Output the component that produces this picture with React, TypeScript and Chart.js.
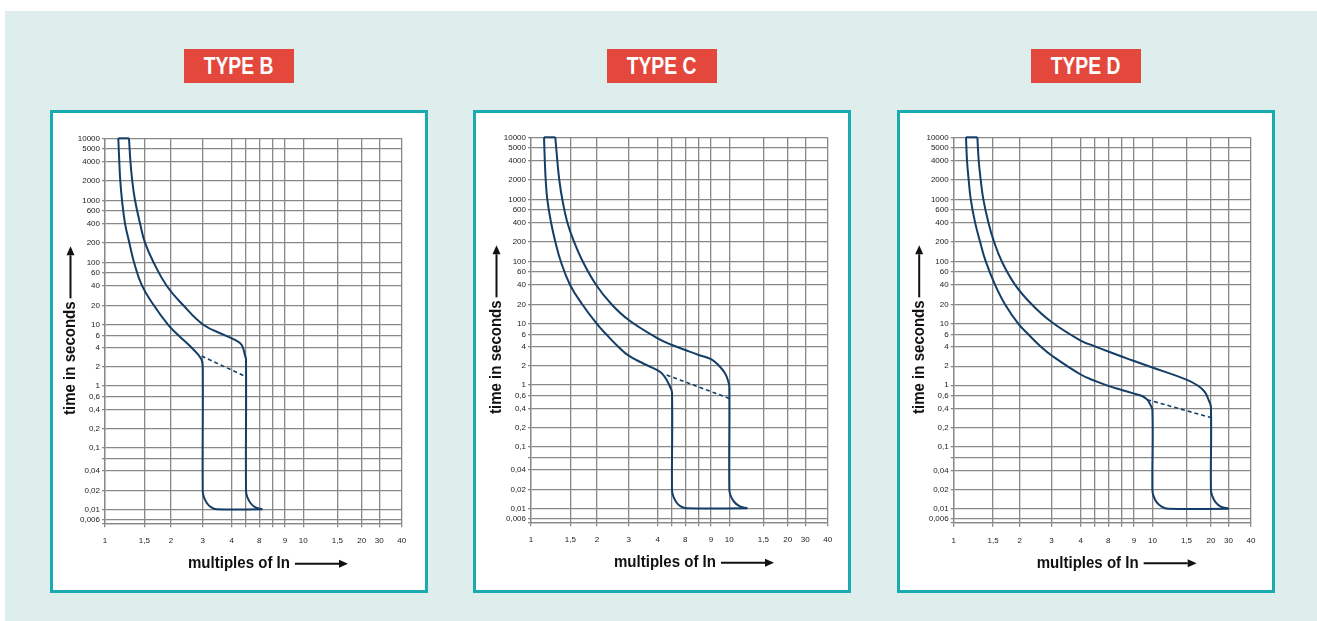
import React, { useEffect, useRef } from 'react';
import { Chart, registerables, LinearScale } from 'chart.js';

Chart.register(...registerables);

// ---------- axis definitions ----------
// x: gridline values (multiples of In) and the labels printed under them
const xTickValues = [1, 1.5, 2, 3, 4, 5, 6, 7, 8, 10, 15, 20, 30, 40];
const xTickLabels = ['1', '1,5', '2', '3', '4', '', '8', '', '9', '10', '1,5', '20', '30', '40'];
// y: gridline values (seconds) and labels
const yTickValues = [10000, 5000, 4000, 2000, 1000, 600, 400, 200, 100, 60, 40, 20, 10, 6, 4, 2, 1, 0.6, 0.4, 0.2, 0.1, 0.06, 0.04, 0.02, 0.01, 0.006, 0.005];
const yTickLabels = ['10000', '5000', '4000', '2000', '1000', '600', '400', '200', '100', '60', '40', '20', '10', '6', '4', '2', '1', '0,6', '0,4', '0,2', '0,1', '', '0,04', '0,02', '0,01', '0,006', ''];
// the printed grid is hand-drawn: relative stops of each gridline along the axis
const xGridStops = [0, 39.3, 66, 97.7, 126.7, 141, 154.3, 167.7, 180, 198.3, 232.3, 256.7, 274.3, 296.7];
const yGridStops = [0, 10, 23.4, 42.7, 62, 72.4, 85, 104.4, 124, 134.4, 147.4, 167, 186.4, 197, 209.4, 228.7, 247.7, 258.4, 271, 290.4, 309.4, 320.4, 332.7, 352, 371, 381.4, 385];

const X_TITLE = 'multiples of In';
const Y_TITLE = 'time in seconds';

// ---------- series: TYPE B ----------
const typeBLowerCurrent = [1.147, 1.159, 1.171, 1.192, 1.229, 1.285, 1.349, 1.465, 1.662, 1.936, 2.196, 2.606, 2.84, 2.96, 3, 3, 3.027, 3.12, 3.257, 3.447, 6.21];
const typeBLowerTime = [10000, 4000, 2000, 1000, 400, 200, 100, 40, 20, 10, 6, 4, 3.08, 2.57, 2, 0.02, 0.0161, 0.0127, 0.0108, 0.01, 0.01];
const typeBUpperCurrent = [1.281, 1.3, 1.325, 1.363, 1.435, 1.511, 1.656, 1.909, 2.341, 3.018, 3.743, 4.211, 4.676, 4.914, 5, 5, 5.069, 5.303, 5.657, 6.21];
const typeBUpperTime = [10000, 4000, 2000, 1000, 400, 200, 100, 40, 20, 10, 6, 5.15, 4.37, 3.08, 2.6, 0.02, 0.0161, 0.0127, 0.0108, 0.01];
const typeBDashCurrent = [2.96, 5];
const typeBDashTime = [2.97, 1.4];

// ---------- series: TYPE C ----------
const typeCLowerCurrent = [1.144, 1.153, 1.164, 1.183, 1.229, 1.285, 1.359, 1.495, 1.705, 1.993, 2.25, 2.626, 3, 3.5, 4, 4.3, 4.6, 4.85, 5, 5, 5.062, 5.282, 5.603, 6.097, 12.39];
const typeCLowerTime = [10000, 4000, 2000, 1000, 400, 200, 100, 40, 20, 10, 6, 4, 2.9, 2.15, 1.7, 1.5, 1.2, 0.92, 0.7, 0.02, 0.0161, 0.0127, 0.0108, 0.01, 0.01];
const typeCUpperCurrent = [1.285, 1.312, 1.339, 1.381, 1.454, 1.561, 1.714, 1.979, 2.408, 3, 4, 5, 6, 7, 8, 8.75, 9.49, 9.88, 10, 10, 10.14, 10.58, 11.29, 12.39];
const typeCUpperTime = [10000, 4000, 2000, 1000, 400, 200, 100, 40, 20, 11.4, 5.26, 4.23, 3.55, 2.97, 2.57, 2.07, 1.53, 1.13, 0.92, 0.02, 0.0161, 0.0127, 0.0108, 0.01];
const typeCDashCurrent = [4.6, 10];
const typeCDashTime = [1.44, 0.55];

// ---------- series: TYPE D ----------
const typeDLowerCurrent = [1.135, 1.147, 1.167, 1.192, 1.246, 1.312, 1.391, 1.533, 1.707, 1.97, 2.233, 2.626, 3, 4, 5, 6, 7, 8, 8.82, 9.39, 9.72, 10, 10, 10.12, 10.51, 11.16, 12.06, 30];
const typeDLowerTime = [10000, 4000, 2000, 1000, 400, 200, 100, 40, 20, 10, 6, 4, 2.94, 1.48, 1.17, 0.97, 0.8, 0.67, 0.6, 0.533, 0.46, 0.38, 0.02, 0.0161, 0.0127, 0.0108, 0.01, 0.01];
const typeDUpperCurrent = [1.276, 1.294, 1.321, 1.357, 1.429, 1.516, 1.647, 1.901, 2.332, 3, 4, 5, 6, 7, 8, 10, 15, 17.04, 18.6, 19.5, 20, 20, 20.56, 22.23, 25.07, 30];
const typeDUpperTime = [10000, 4000, 2000, 1000, 400, 200, 100, 40, 20, 10.7, 4.93, 4.08, 3.39, 2.83, 2.41, 1.91, 1.23, 1.0, 0.73, 0.52, 0.42, 0.02, 0.0161, 0.0127, 0.0108, 0.01];
const typeDDashCurrent = [9.39, 20];
const typeDDashTime = [0.533, 0.29];

// ---------- styles ----------
const NAVY = '#143e66';
const GRID = '#888888';
const TEAL = '#1aabb0';
const RED = '#e4483c';
const BG = '#deeeed';
const TICK_FONT = "'Liberation Sans Narrow', 'Liberation Sans', Arial, sans-serif";

// ---------- custom warped scale (piecewise-log between printed gridlines) ----------
function makeWarpScale(scaleId: string, values: number[], stops: number[], flip: boolean) {
  const span = stops[stops.length - 1];
  const pairs = values
    .map((v, i) => ({ v, d: flip ? 1 - stops[i] / span : stops[i] / span }))
    .sort((a, b) => a.v - b.v);
  const lv = pairs.map((p) => Math.log(p.v));
  const n = pairs.length;
  class WarpScale extends (LinearScale as any) {
    static id = scaleId;
    static defaults = {};
    determineDataLimits() {
      this.min = pairs[0].v;
      this.max = pairs[n - 1].v;
    }
    buildTicks() {
      return pairs.map((p) => ({ value: p.v }));
    }
    getPixelForValue(value: number) {
      if (value === null || value === undefined || !(value > 0)) return NaN;
      const l = Math.log(value);
      let i = 0;
      while (i < n - 2 && l > lv[i + 1]) i++;
      const t = (l - lv[i]) / (lv[i + 1] - lv[i]);
      const dec = pairs[i].d + t * (pairs[i + 1].d - pairs[i].d);
      return this.getPixelForDecimal(dec);
    }
    getValueForPixel(pixel: number) {
      const dec = this.getDecimalForPixel(pixel);
      let i = 0;
      while (i < n - 2 && dec > pairs[i + 1].d) i++;
      const t = (dec - pairs[i].d) / (pairs[i + 1].d - pairs[i].d);
      return Math.exp(lv[i] + t * (lv[i + 1] - lv[i]));
    }
  }
  return WarpScale;
}

Chart.register(makeWarpScale('warpX', xTickValues, xGridStops, false) as any);
Chart.register(makeWarpScale('warpY', yTickValues, yGridStops, true) as any);

function zip(xs: number[], ys: number[]) {
  return xs.map((x, i) => ({ x, y: ys[i] }));
}

function drawArrow(ctx: CanvasRenderingContext2D, x1: number, y1: number, x2: number, y2: number) {
  const ang = Math.atan2(y2 - y1, x2 - x1);
  const head = 9;
  const hw = 4;
  const c = Math.cos(ang);
  const s = Math.sin(ang);
  ctx.lineWidth = 2;
  ctx.beginPath();
  ctx.moveTo(x1, y1);
  ctx.lineTo(x2 - head * c, y2 - head * s);
  ctx.stroke();
  ctx.beginPath();
  ctx.moveTo(x2, y2);
  ctx.lineTo(x2 - head * c + hw * s, y2 - head * s - hw * c);
  ctx.lineTo(x2 - head * c - hw * s, y2 - head * s + hw * c);
  ctx.closePath();
  ctx.fill();
}

const axisTitlePlugin = {
  id: 'axisTitleArrows',
  afterDraw(chart: any) {
    const { ctx, chartArea: a } = chart;
    ctx.save();
    ctx.fillStyle = '#111';
    ctx.strokeStyle = '#111';
    ctx.font = "bold 16px 'Liberation Sans', Arial, sans-serif";
    ctx.textBaseline = 'alphabetic';
    ctx.textAlign = 'left';
    const sx = 0.94;
    // x title
    const xw = ctx.measureText(X_TITLE).width * sx;
    const tx = a.left + 83;
    const ty = a.bottom + 45;
    ctx.save();
    ctx.translate(tx, ty);
    ctx.scale(sx, 1);
    ctx.fillText(X_TITLE, 0, 0);
    ctx.restore();
    drawArrow(ctx, tx + xw + 5, a.bottom + 40.5, a.left + 243, a.bottom + 40.5);
    // y title
    const yw = ctx.measureText(Y_TITLE).width * sx;
    const yx = a.left - 30;
    const yy = a.top + 276.7;
    ctx.save();
    ctx.translate(yx, yy);
    ctx.rotate(-Math.PI / 2);
    ctx.scale(sx, 1);
    ctx.fillText(Y_TITLE, 0, 0);
    ctx.restore();
    drawArrow(ctx, a.left - 34.5, yy - yw - 3, a.left - 34.5, a.top + 108);
    ctx.restore();
  },
};

type PanelCfg = {
  title: string;
  boxLeft: number;
  gridLeft: number;
  gridTop: number;
  gridRight: number;
  gridBottom: number;
  lowerI: number[];
  lowerT: number[];
  upperI: number[];
  upperT: number[];
  dashI: number[];
  dashT: number[];
};

const BOX_TOP = 110;
const BOX_W = 378;
const BOX_H = 483;
const BORDER = 3;

const PANELS: PanelCfg[] = [
  { title: 'TYPE B', boxLeft: 50, gridLeft: 105, gridTop: 138.3, gridRight: 401.7, gridBottom: 523.3,
    lowerI: typeBLowerCurrent, lowerT: typeBLowerTime, upperI: typeBUpperCurrent, upperT: typeBUpperTime, dashI: typeBDashCurrent, dashT: typeBDashTime },
  { title: 'TYPE C', boxLeft: 473, gridLeft: 531, gridTop: 137.3, gridRight: 827.7, gridBottom: 522.3,
    lowerI: typeCLowerCurrent, lowerT: typeCLowerTime, upperI: typeCUpperCurrent, upperT: typeCUpperTime, dashI: typeCDashCurrent, dashT: typeCDashTime },
  { title: 'TYPE D', boxLeft: 897, gridLeft: 953.7, gridTop: 137.3, gridRight: 1251, gridBottom: 522.7,
    lowerI: typeDLowerCurrent, lowerT: typeDLowerTime, upperI: typeDUpperCurrent, upperT: typeDUpperTime, dashI: typeDDashCurrent, dashT: typeDDashTime },
];

function Panel({ cfg }: { cfg: PanelCfg }) {
  const ref = useRef<HTMLCanvasElement>(null);
  const cw = BOX_W - 2 * BORDER;
  const ch = BOX_H - 2 * BORDER;
  useEffect(() => {
    if (!ref.current) return;
    const originX = cfg.boxLeft + BORDER;
    const originY = BOX_TOP + BORDER;
    const yWidth = cfg.gridLeft - originX;
    const xHeight = originY + ch - cfg.gridBottom;
    const padTop = cfg.gridTop - originY;
    const padRight = originX + cw - cfg.gridRight;
    const lineDs = (data: any[], dashed: boolean, tension: number) => ({
      data,
      borderColor: NAVY,
      borderWidth: dashed ? 1.6 : 2,
      borderDash: dashed ? [4, 3] : [],
      pointRadius: 0,
      tension,
      fill: false,
      clip: false as any,
    });
    // the top cap joins the first points of both limit curves
    const cap = [
      { x: cfg.lowerI[0], y: cfg.lowerT[0] },
      { x: cfg.upperI[0], y: cfg.upperT[0] },
    ];
    const chart = new Chart(ref.current, {
      type: 'line',
      data: {
        datasets: [
          lineDs(zip(cfg.lowerI, cfg.lowerT), false, 0.42),
          lineDs(zip(cfg.upperI, cfg.upperT), false, 0.42),
          lineDs(cap, false, 0),
          lineDs(zip(cfg.dashI, cfg.dashT), true, 0),
        ] as any,
      },
      options: {
        animation: false,
        responsive: false,
        maintainAspectRatio: false,
        events: [],
        layout: { padding: { top: padTop, right: padRight, left: 0, bottom: 0 } },
        plugins: { legend: { display: false }, tooltip: { enabled: false } },
        scales: {
          x: {
            type: 'warpX' as any,
            position: 'bottom',
            afterFit: (s: any) => { s.height = xHeight; },
            grid: { color: GRID, lineWidth: 1.3, tickLength: 4, drawTicks: true },
            border: { color: GRID, width: 1.3 },
            ticks: {
              autoSkip: false,
              maxRotation: 0,
              minRotation: 0,
              padding: 9,
              color: '#222',
              font: { family: TICK_FONT, size: 8 },
              callback: (v: any) => xTickLabels[xTickValues.indexOf(Number(v))] ?? '',
            },
          },
          y: {
            type: 'warpY' as any,
            position: 'left',
            afterFit: (s: any) => { s.width = yWidth; },
            grid: { color: GRID, lineWidth: 1.3, tickLength: 3, drawTicks: true },
            border: { color: GRID, width: 1.3 },
            ticks: {
              autoSkip: false,
              padding: 2,
              color: '#222',
              font: { family: TICK_FONT, size: 8 },
              callback: (v: any) => yTickLabels[yTickValues.indexOf(Number(v))] ?? '',
            },
          },
        } as any,
      },
      plugins: [axisTitlePlugin as any],
    });
    return () => chart.destroy();
  }, []);
  const labelW = 110;
  return (
    <>
      <div
        style={{
          position: 'absolute',
          left: cfg.boxLeft + BOX_W / 2 - labelW / 2,
          top: 49,
          width: labelW,
          height: 34,
          background: RED,
          color: '#fff',
          display: 'flex',
          alignItems: 'center',
          justifyContent: 'center',
        }}
      >
        <span
          style={{
            fontFamily: "'Liberation Sans', Arial, sans-serif",
            fontWeight: 'bold',
            fontSize: 23,
            display: 'inline-block',
            transform: 'scaleX(0.84)',
            whiteSpace: 'nowrap',
            lineHeight: '34px',
          }}
        >
          {cfg.title}
        </span>
      </div>
      <div
        style={{
          position: 'absolute',
          left: cfg.boxLeft,
          top: BOX_TOP,
          width: cw,
          height: ch,
          border: `${BORDER}px solid ${TEAL}`,
          background: '#fff',
        }}
      >
        <canvas ref={ref} width={cw} height={ch} style={{ display: 'block', width: cw, height: ch }} />
      </div>
    </>
  );
}

export default function App() {
  return (
    <div style={{ position: 'absolute', left: 0, top: 0, width: 1317, height: 621, background: '#fff', overflow: 'hidden' }}>
      <div style={{ position: 'absolute', left: 5, top: 11, width: 1312, height: 610, background: BG }} />
      {PANELS.map((p) => (
        <Panel key={p.title} cfg={p} />
      ))}
    </div>
  );
}
